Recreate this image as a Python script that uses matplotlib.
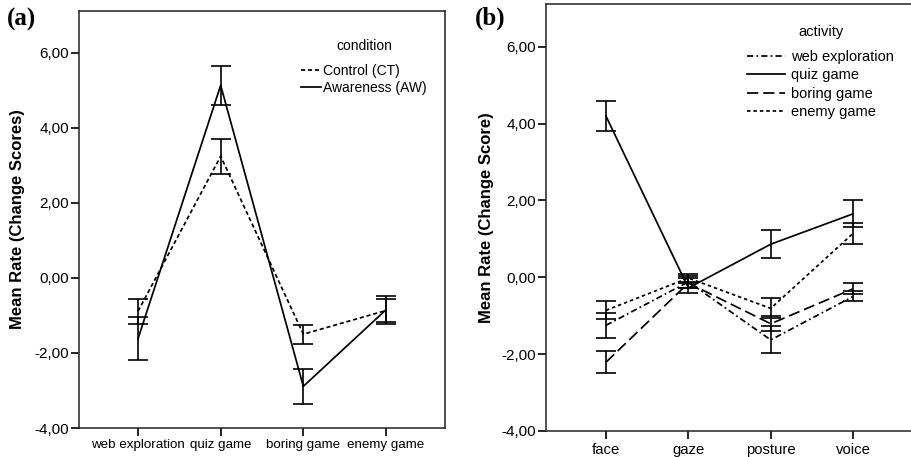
import matplotlib
matplotlib.use("Agg")
import matplotlib.pyplot as plt
import numpy as np

# ---------------- data ----------------
cond_categories = ["web exploration", "quiz game", "boring game", "enemy game"]
ct_mean = [-0.89, 3.24, -1.50, -0.87]
ct_err = [0.33, 0.47, 0.25, 0.31]
aw_mean = [-1.62, 5.13, -2.89, -0.85]
aw_err = [0.57, 0.52, 0.46, 0.37]

act_categories = ["face", "gaze", "posture", "voice"]
web_mean = [-1.25, -0.12, -1.63, -0.50]
web_err = [0.33, 0.15, 0.35, 0.13]
quiz_mean = [4.19, -0.28, 0.86, 1.65]
quiz_err = [0.39, 0.13, 0.37, 0.35]
boring_mean = [-2.21, -0.15, -1.21, -0.30]
boring_err = [0.29, 0.13, 0.20, 0.14]
enemy_mean = [-0.86, -0.02, -0.81, 1.14]
enemy_err = [0.23, 0.10, 0.26, 0.28]

ytick_vals = [-4, -2, 0, 2, 4, 6]
ytick_labels = ["-4,00", "-2,00", "0,00", "2,00", "4,00", "6,00"]

# ---------------- style ----------------
plt.rcParams['font.family'] = ['Liberation Sans', 'DejaVu Sans']
W, H = 911, 457
fig = plt.figure(figsize=(W / 100, H / 100), dpi=100)


def px_axes(l, t, r, b):
    return fig.add_axes([l / W, 1 - b / H, (r - l) / W, (b - t) / H])


LW = 1.25
CAP = 7.5


def style_axes(ax, cats, xlim, ylabel, xfs, xpad):
    ax.set_xlim(*xlim)
    ax.set_ylim(-4, 7.11)
    ax.set_xticks(range(len(cats)))
    ax.set_xticklabels(cats, fontsize=xfs)
    ax.set_yticks(ytick_vals)
    ax.set_yticklabels(ytick_labels, fontsize=11)
    ax.tick_params(axis='both', direction='out', length=5.5, width=1.2, color='black')
    ax.tick_params(axis='x', pad=xpad)
    ax.tick_params(axis='y', pad=1.5)
    for s in ax.spines.values():
        s.set_linewidth(1.1)
        s.set_color('#222222')
    ax.set_ylabel(ylabel, fontsize=12, fontweight='bold')


def draw_series(ax, mean, err, dashes, label):
    x = np.arange(len(mean))
    line, = ax.plot(x, mean, color='black', lw=LW, label=label)
    if dashes is not None:
        line.set_dashes(dashes)
    ax.errorbar(x, mean, yerr=err, fmt='none', ecolor='black', elinewidth=1.2,
                capsize=CAP, capthick=1.2)
    return line


# ---------------- panel (a) ----------------
axa = px_axes(79, 11, 445, 428)
style_axes(axa, cond_categories, (-0.714, 3.714), "Mean Rate (Change Scores)", 9.6, 2.5)
axa.yaxis.set_label_coords((25 - 79) / 366, 0.5)
draw_series(axa, ct_mean, ct_err, (2.4, 1.6), "Control (CT)")
draw_series(axa, aw_mean, aw_err, None, "Awareness (AW)")
leg = axa.legend(loc='upper left', bbox_to_anchor=((301 - 79) / 366, 1 - (39 - 11) / 417),
                 frameon=False, fontsize=10, title="condition", title_fontsize=10,
                 handlelength=1.45, handletextpad=0.15, labelspacing=0.2,
                 borderaxespad=0, borderpad=0)
leg._legend_box.sep = 8
fig.text(7 / W, 1 - 19 / H, "(a)", fontsize=18, fontweight='bold',
         family=['Liberation Serif', 'DejaVu Serif'], va='center', ha='left')

# ---------------- panel (b) ----------------
axb = px_axes(546, 4, 914, 431)
style_axes(axb, act_categories, (-0.729, 3.74), "Mean Rate (Change Score)", 10.7, 3.2)
axb.yaxis.set_label_coords((494 - 546) / 368, 0.5)
draw_series(axb, web_mean, web_err, (3.6, 1.8, 1.0, 1.8), "web exploration")
draw_series(axb, quiz_mean, quiz_err, None, "quiz game")
draw_series(axb, boring_mean, boring_err, (6.5, 2.8), "boring game")
draw_series(axb, enemy_mean, enemy_err, (2.0, 1.7), "enemy game")
legb = axb.legend(loc='upper left', bbox_to_anchor=((747 - 546) / 368, 1 - (25 - 4) / 427),
                  frameon=False, fontsize=10.5, title="activity", title_fontsize=10.5,
                  handlelength=2.6, handletextpad=0.45, labelspacing=0.3,
                  borderaxespad=0, borderpad=0)
legb._legend_box.sep = 8
fig.text(475 / W, 1 - 18 / H, "(b)", fontsize=18, fontweight='bold',
         family=['Liberation Serif', 'DejaVu Serif'], va='center', ha='left')

fig.savefig("out.png", dpi=100)
